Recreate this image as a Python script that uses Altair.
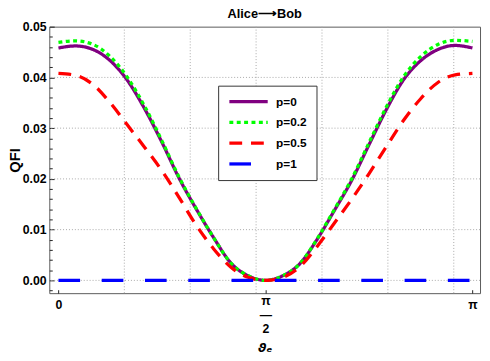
import altair as alt
import pandas as pd

# sample angles (rad) at which the curves were read
theta = [0.0, 0.1309, 0.2618, 0.3927, 0.5236, 0.6545, 0.7854, 0.9163, 1.0472, 1.1781,
         1.3090, 1.4399, 1.5708, 1.7017, 1.8326, 1.9635, 2.0944, 2.2253, 2.3562, 2.4871,
         2.6180, 2.7489, 2.8798, 3.0107, 3.1416]

qfi_p0 = [0.0458, 0.0462, 0.0455, 0.0433, 0.0394, 0.0338, 0.0272, 0.0201, 0.0140, 0.0084,
          0.0034, 0.0009, 0.0, 0.0009, 0.0033, 0.0081, 0.0138, 0.0197, 0.0267, 0.0336,
          0.0395, 0.0433, 0.0455, 0.0463, 0.0458]
qfi_p02 = [0.0469, 0.0472, 0.0465, 0.0441, 0.0400, 0.0343, 0.0275, 0.0203, 0.0141, 0.0084,
           0.0034, 0.0009, 0.0, 0.0009, 0.0033, 0.0082, 0.0140, 0.0200, 0.0271, 0.0341,
           0.0401, 0.0441, 0.0465, 0.0473, 0.0471]
qfi_p05 = [0.0408, 0.0404, 0.0386, 0.0350, 0.0306, 0.0262, 0.0216, 0.0163, 0.0108, 0.0062,
           0.0026, 0.0006, 0.0, 0.0006, 0.0027, 0.0067, 0.0113, 0.0160, 0.0210, 0.0263,
           0.0315, 0.0358, 0.0390, 0.0405, 0.0408]
qfi_p1 = [0.0] * 25

series_names = ["p=0", "p=0.2", "p=0.5", "p=1"]
series_colors = ["#800080", "#00ff00", "#ff0000", "#0000ff"]
series_dashes = [[1, 0], [4, 3.5], [13, 9], [22, 22]]

x_tick_values = [0.0, 1.5708, 3.1416]
x_grid_values = [0.5, 1.0, 1.5, 2.0, 2.5, 3.0]
y_label_values = [0.0, 0.01, 0.02, 0.03, 0.04, 0.05]
y_grid_values = [0.0, 0.01, 0.02, 0.03, 0.04]
y_tick_values = [-0.002, 0.0, 0.002, 0.004, 0.006, 0.008, 0.01, 0.012, 0.014, 0.016, 0.018,
                 0.02, 0.022, 0.024, 0.026, 0.028, 0.03, 0.032, 0.034, 0.036, 0.038,
                 0.04, 0.042, 0.044, 0.046, 0.048, 0.05]

rows = []
for name, vals in zip(series_names, [qfi_p0, qfi_p02, qfi_p05, qfi_p1]):
    for t, v in zip(theta, vals):
        rows.append({"theta": t, "qfi": v, "series": name})
df = pd.DataFrame(rows)

W, H = 438, 271
FONT = "Liberation Sans"
xscale = alt.Scale(domain=[-0.0694, 3.1993], nice=False, zero=False)
yscale = alt.Scale(domain=[-0.00252, 0.05], nice=False, zero=False)
GRID = "#a8a8a8"

legend = alt.Legend(
    orient="none", legendX=171.7, legendY=60, title=None,
    symbolType="M-4,0H4", symbolSize=95, symbolStrokeWidth=3.3, symbolOffset=14.6,
    labelFont=FONT, labelFontSize=12, labelFontWeight="bold", labelColor="black",
    labelOffset=21, rowPadding=7.1, padding=9.3,
    strokeColor="#333333", fillColor="white", cornerRadius=0,
)

vgrid = alt.Chart(pd.DataFrame({"g": x_grid_values})).mark_rule(
    color=GRID, strokeDash=[1, 2], strokeWidth=1
).encode(
    x=alt.X("g:Q", scale=xscale, axis=alt.Axis(
        orient="top", offset=-H, values=x_tick_values, labels=False, domain=False,
        grid=False, ticks=True, tickSize=3.5, tickColor="#222222", tickWidth=1, title=None))
)

hgrid = alt.Chart(pd.DataFrame({"h": y_grid_values})).mark_rule(
    color=GRID, strokeDash=[1, 2], strokeWidth=1
).encode(
    y=alt.Y("h:Q", scale=yscale, axis=alt.Axis(
        orient="right", offset=-W, values=y_tick_values, labels=False, domain=False,
        grid=False, ticks=True, tickColor="#222222", tickWidth=1,
        tickSize={"condition": {"test": "abs(datum.value*100 - round(datum.value*100)) < 0.01", "value": 5},
                  "value": 3},
        title=None))
)

lines = alt.Chart(df).mark_line(strokeWidth=3.3, interpolate="monotone", strokeCap="butt").encode(
    x=alt.X("theta:Q", scale=xscale, axis=alt.Axis(
        orient="bottom", values=x_tick_values,
        labelExpr="datum.value < 0.5 ? '0' : (datum.value < 2 ? ['π', '—', '2'] : 'π')",
        labelLineHeight=14, labelFlush=False, labelOverlap=False,
        ticks=False, tickSize=0, domain=False, grid=False,
        labelFont=FONT, labelFontSize=12.5, labelFontWeight="bold", labelColor="black",
        labelBaseline="top",
        labelPadding={"condition": {"test": "abs(datum.value - 1.5708) < 0.01", "value": 1.6},
                      "value": 5.8},
        title="ϑₑ", titleFont="DejaVu Sans", titleFontSize=13, titleFontStyle="italic",
        titleFontWeight="bold", titleColor="black", titleY=59, titleBaseline="alphabetic")),
    y=alt.Y("qfi:Q", scale=yscale, axis=alt.Axis(
        orient="left", values=y_label_values, format=".2f",
        ticks=False, tickSize=0, domain=False, grid=False, labelFlush=False, labelOverlap=False,
        labelFont=FONT, labelFontSize=12.5, labelFontWeight="bold", labelColor="black",
        labelPadding=3.3,
        title="QFI", titleFont=FONT, titleFontSize=15, titleFontWeight="bold", titleColor="black",
        titleX=-30.5, titleBaseline="alphabetic")),
    color=alt.Color("series:N", scale=alt.Scale(domain=series_names, range=series_colors), legend=legend),
    strokeDash=alt.StrokeDash("series:N", scale=alt.Scale(domain=series_names, range=series_dashes), legend=legend),
)

chart = alt.layer(vgrid, hgrid, lines).resolve_axis(
    x="independent", y="independent"
).properties(
    width=W, height=H,
    autosize=alt.AutoSizeParams(type="none"),
    padding={"left": 42, "top": 16, "right": 2, "bottom": 66},
    title=alt.TitleParams("Alice⟶Bob", font=FONT, fontSize=13, fontWeight="bold", color="black",
                          anchor="middle", frame="group", baseline="alphabetic", offset=2, dy=12),
).configure_view(stroke="#5a5a5a", strokeWidth=1)

chart.save("out.html", embed_options={"renderer": "svg", "actions": False})
